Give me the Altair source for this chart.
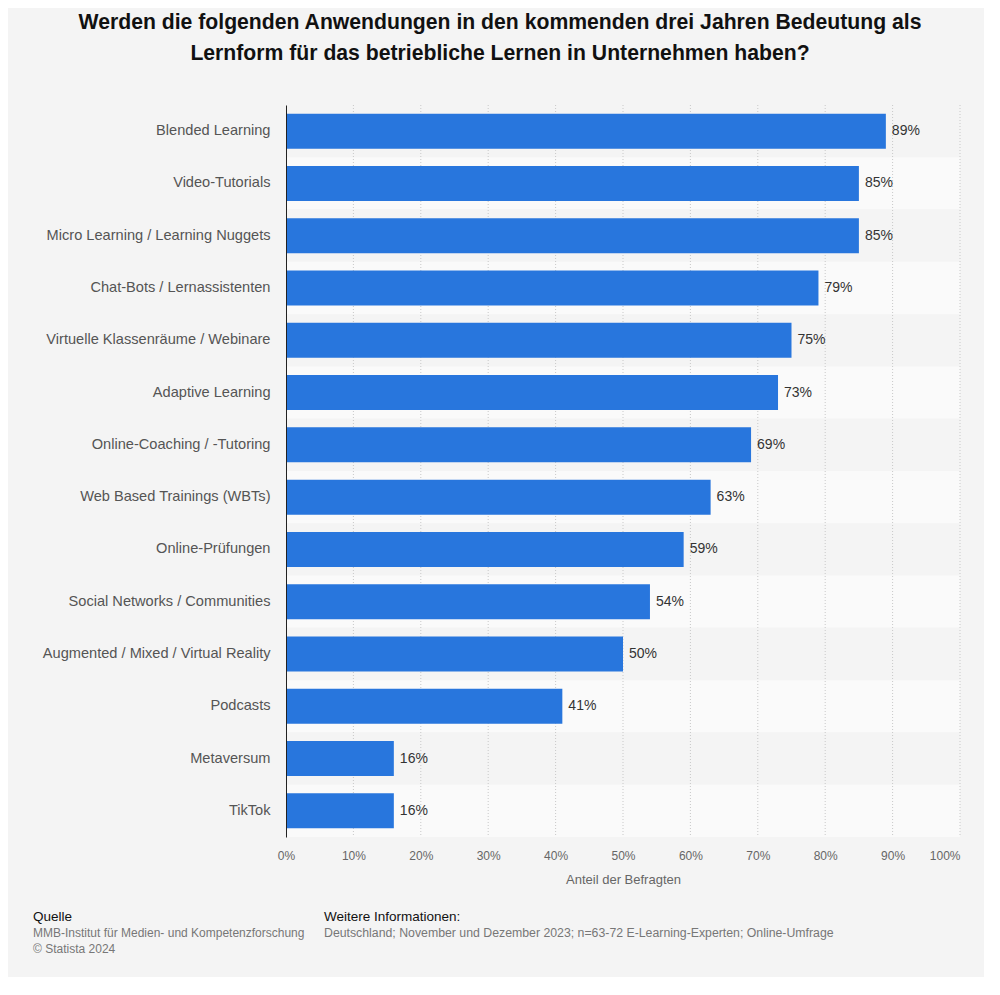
import altair as alt
import pandas as pd

categories = [
    "Blended Learning",
    "Video-Tutorials",
    "Micro Learning / Learning Nuggets",
    "Chat-Bots / Lernassistenten",
    "Virtuelle Klassenräume / Webinare",
    "Adaptive Learning",
    "Online-Coaching / -Tutoring",
    "Web Based Trainings (WBTs)",
    "Online-Prüfungen",
    "Social Networks / Communities",
    "Augmented / Mixed / Virtual Reality",
    "Podcasts",
    "Metaversum",
    "TikTok",
]
values = [89, 85, 85, 79, 75, 73, 69, 63, 59, 54, 50, 41, 16, 16]
tick_values = [0, 10, 20, 30, 40, 50, 60, 70, 80, 90, 100]
grid_values = [10, 20, 30, 40, 50, 60, 70, 80, 90, 100]

FONT = "Liberation Sans"
W, H = 674, 732

df = pd.DataFrame({
    "cat": categories,
    "v": values,
    "label": [f"{v}%" for v in values],
    "shade": ["a" if i % 2 == 0 else "b" for i in range(len(categories))],
})
grid_df = pd.DataFrame({"t": grid_values})

xscale = alt.Scale(domain=[0, 100], nice=False)
x_axis = alt.Axis(values=tick_values, labelExpr="datum.value + '%'",
                  grid=False, domain=False, ticks=False,
                  labelFontSize=12, labelColor="#666666", labelFont=FONT,
                  labelPadding=13,
                  labelAlign={"expr": "datum.value == 100 ? 'right' : 'center'"},
                  titleFontSize=13, titleColor="#666666", titleFont=FONT,
                  titleFontWeight="normal", titlePadding=12)
X_TITLE = "Anteil der Befragten"

bg = alt.Chart(df).mark_rect().encode(
    y=alt.Y("cat:N", sort=categories, axis=None,
            scale=alt.Scale(paddingInner=0, paddingOuter=0)),
    x=alt.value(0),
    x2=alt.value(W),
    color=alt.Color("shade:N", legend=None,
                    scale=alt.Scale(domain=["a", "b"], range=["#f4f4f4", "#fafafa"])),
)

grid = alt.Chart(grid_df).mark_rule(color="#c8c8c8", strokeDash=[1, 2], strokeWidth=1).encode(
    x=alt.X("t:Q", scale=xscale, axis=x_axis, title=X_TITLE),
    y=alt.value(0),
    y2=alt.value(H),
)

ybar = alt.Y(
    "cat:N", sort=categories, title=None,
    scale=alt.Scale(paddingInner=0.33, paddingOuter=0.165),
    axis=alt.Axis(labelFontSize=14.6, labelColor="#555555", labelFont=FONT,
                  labelPadding=16, ticks=False, domainColor="#222222",
                  domainWidth=1, labelLimit=400, zindex=1),
)

bars = alt.Chart(df).mark_bar(color="#2876dd").encode(
    y=ybar,
    x=alt.X("v:Q", scale=xscale, title=X_TITLE, axis=x_axis),
)

text = alt.Chart(df).mark_text(align="left", baseline="middle", dx=6,
                               fontSize=14, color="#333333", font=FONT).encode(
    y=alt.Y("cat:N", sort=categories),
    x=alt.X("v:Q", scale=xscale, title=X_TITLE, axis=x_axis),
    text=alt.Text("label:N"),
)

one = alt.Data(values=[{}])

def note(txt, x, y, color, size):
    return alt.Chart(one).mark_text(text=txt, align="left", baseline="middle",
                                    fontSize=size, color=color, font=FONT).encode(
        x=alt.value(x), y=alt.value(y))

foot = [
    note("Quelle", -253, 812, "#111111", 13.5),
    note("MMB-Institut für Medien- und Kompetenzforschung", -253, 828, "#777777", 12),
    note("© Statista 2024", -253, 844, "#777777", 12),
    note("Weitere Informationen:", 38, 812, "#111111", 13.5),
    note("Deutschland; November und Dezember 2023; n=63-72 E-Learning-Experten; Online-Umfrage",
         38, 828, "#777777", 12.3),
]

bar_layer = alt.layer(bars, text)

chart = alt.layer(bg, grid, bar_layer, *foot).resolve_scale(
    y="independent", color="independent"
).properties(
    width=W,
    height=H,
    title=alt.TitleParams(
        text=["Werden die folgenden Anwendungen in den kommenden drei Jahren Bedeutung als",
              "Lernform für das betriebliche Lernen in Unternehmen haben?"],
        font=FONT, fontSize=21.2, fontWeight="bold", color="#111111",
        lineHeight=31, anchor="middle", dx=-123, offset=40,
    ),
    autosize=alt.AutoSizeParams(type="none"),
    padding={"left": 278, "top": 97, "right": 24, "bottom": 140},
).configure(
    background="#f4f4f4",
).configure_view(stroke=None)

chart.save("out.html", embed_options={"renderer": "svg", "actions": False})
